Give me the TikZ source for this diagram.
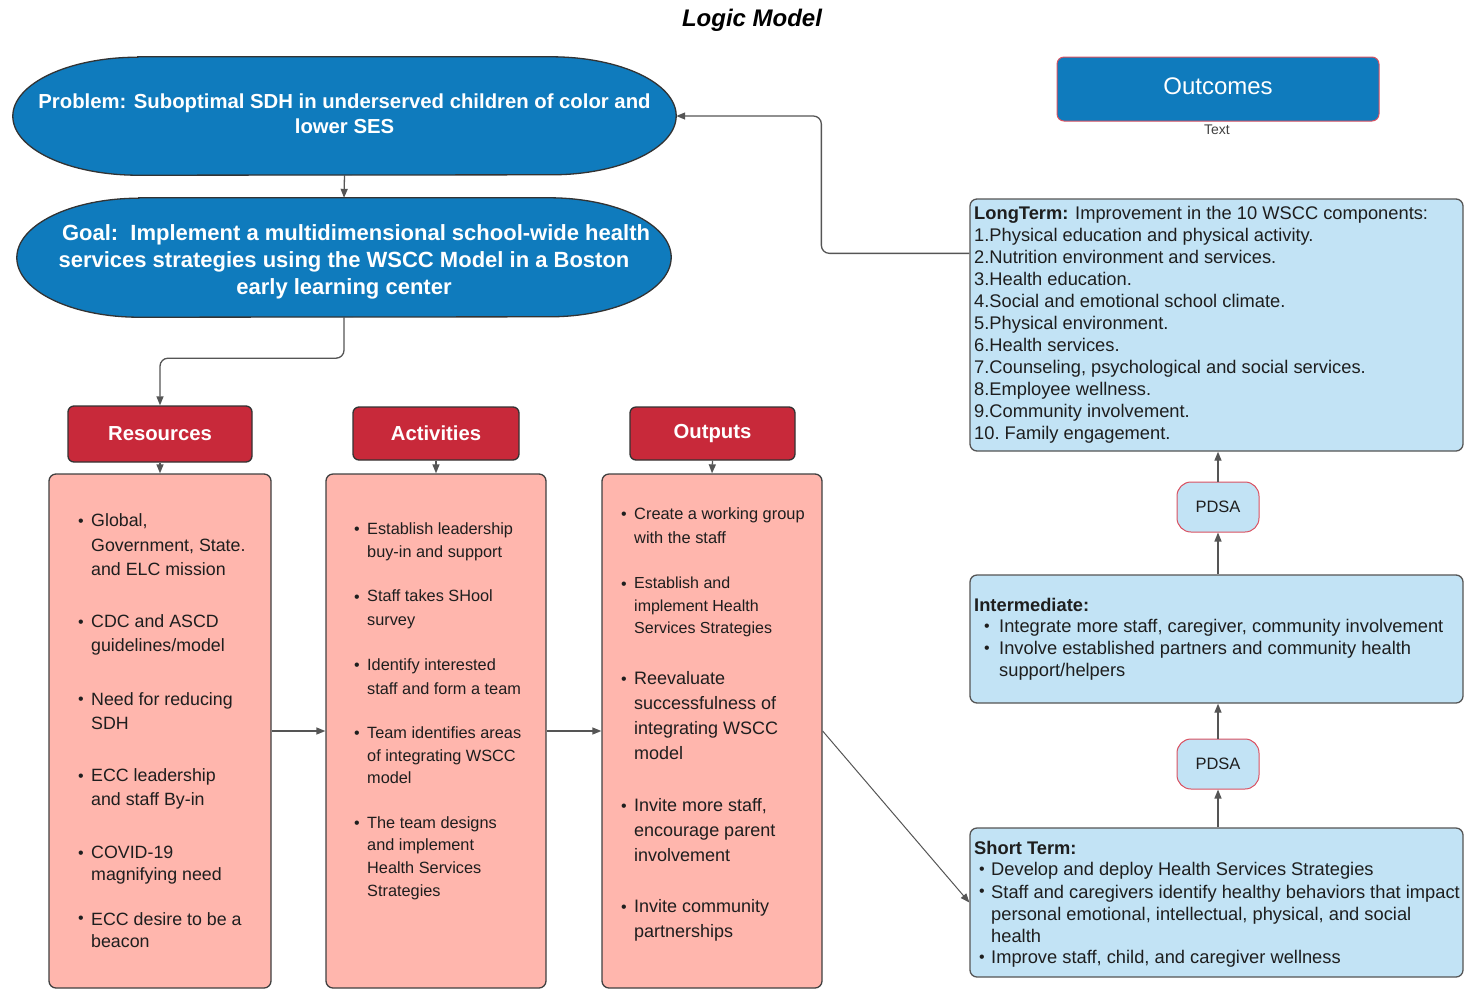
\documentclass[tikz,border=0pt]{standalone}
\usepackage{fontspec}
\setmainfont{Liberation Sans}
\usetikzlibrary{shapes.geometric,arrows.meta,calc,backgrounds}
\definecolor{eblue}{HTML}{0F7BBD}
\definecolor{hred}{HTML}{C8293A}
\definecolor{salmon}{HTML}{FFB6AD}
\definecolor{lblue}{HTML}{C2E3F5}
\definecolor{lgray}{HTML}{555555}
\definecolor{txt}{HTML}{1E1E1E}
\definecolor{pred}{HTML}{DA5060}
\newcommand\fs[2]{\fontsize{#1}{#2}\selectfont}
% stadium-like shape with elliptical ends: #1 node name, #2 end x-radius
\newcommand\ovalshape[2]{%
  \begin{pgfonlayer}{background}
  \path[draw=black!80, line width=1.3pt, fill=eblue]
    ($(#1.north west)+(#2,0)$) -- ($(#1.north east)-(#2,0)$)
    arc[start angle=90, end angle=-90, x radius=#2 pt, y radius=0.5*\ovalh]
    -- ($(#1.south west)+(#2,0)$)
    arc[start angle=270, end angle=90, x radius=#2 pt, y radius=0.5*\ovalh] -- cycle;
  \end{pgfonlayer}}
\begin{document}
\begin{tikzpicture}[x=1pt,y=-1pt,
  conn/.style={draw=lgray, line width=1.3pt, -{Triangle[length=9pt,width=7pt]}},
  ovalbox/.style={rectangle, inner sep=0pt, draw=none},
  elltext/.style={text=white, align=center, inner sep=0pt},
  hdr/.style={rectangle, rounded corners=6pt, draw=black!80, line width=1.3pt, fill=hred, text=white, font=\fs{20.3}{24}\bfseries},
  pbox/.style={rectangle, rounded corners=7pt, draw=black!75, line width=1.3pt, fill=salmon, inner sep=0pt},
  bbox/.style={rectangle, rounded corners=7pt, draw=lgray, line width=1.3pt, fill=lblue, inner sep=0pt},
  pdsa/.style={rectangle, rounded corners=14pt, draw=pred, line width=1pt, fill=lblue, text=txt, font=\fs{16.5}{20}, minimum width=82pt, minimum height=50pt},
  itm/.style={anchor=west, align=left, inner sep=0pt, text=txt},
  bul/.style={inner sep=0pt, text=txt, font=\fs{16}{16}, yshift=-3pt}
]
\useasboundingbox (0,0) rectangle (1464,989);

% title
\node[font=\fs{24}{27}\bfseries\itshape, text=black] (title) at (752,20) {Logic Model};

% ovals
\node[ovalbox, minimum width=663pt, minimum height=118pt] (prob) at (344.5,116) {};
\def\ovalh{118pt}\ovalshape{prob}{125}
\node[elltext, font=\fs{20.3}{25}\bfseries] (probt) at (344.5,114) {Problem: Suboptimal SDH in underserved children of color and\\lower SES};
\node[ovalbox, minimum width=654pt, minimum height=119pt] (goal) at (344,257.5) {};
\def\ovalh{119pt}\ovalshape{goal}{122}
\node[elltext, font=\fs{22}{27}\bfseries] (goalt) at (344,262) {\hspace*{24pt}Goal:\ \ Implement a multidimensional school-wide health\\services strategies using the WSCC Model in a Boston\\early learning center};

% headers
\node[hdr, minimum width=184pt, minimum height=56pt] (reshead) at (160,434) {Resources};
\node[hdr, minimum width=166pt, minimum height=53pt] (acthead) at (436,433.5) {Activities};
\node[hdr, minimum width=165pt, minimum height=53pt] (outhead) at (712.5,433.5) {Outputs};

% column boxes
\node[pbox, minimum width=222pt, minimum height=514pt] (res) at (160,731) {};
\node[pbox, minimum width=220pt, minimum height=514pt] (act) at (436,731) {};
\node[pbox, minimum width=220pt, minimum height=514pt] (out) at (712,731) {};

% outcomes
\node[rectangle, rounded corners=7pt, draw=pred, line width=1pt, fill=eblue,
  minimum width=322pt, minimum height=64pt,
  label={[text=white, font=\fs{24}{28}, yshift=3pt, name=outcl]center:Outcomes}] (outc) at (1218,89) {};
\node[font=\fs{14}{16}, text=black!75, inner sep=0pt] (outct) at (1217,130) {Text};

\node[bbox, minimum width=493pt, minimum height=252pt] (lt) at (1216.5,325) {};
\node[bbox, minimum width=493pt, minimum height=128pt] (inter) at (1216.5,639) {};
\node[bbox, minimum width=493pt, minimum height=149pt] (st) at (1216.5,902.5) {};
\node[pdsa] (p1) at (1218,507) {PDSA};
\node[pdsa] (p2) at (1218,764) {PDSA};

% connectors
\draw[conn] (prob.south) -- (goal.north);
\draw[conn, rounded corners=8pt] (goal.south) -- ++(0,41) -| (reshead.north);
\draw[conn] (reshead.south) -- (res.north);
\draw[conn] (acthead.south) -- (act.north);
\draw[conn] (outhead.south) -- (out.north);
\draw[conn] (res.east) -- (act.west);
\draw[conn] (act.east) -- (out.west);
\draw[conn, line width=1pt] (out.east) -- (st.west);
\coordinate (ltout) at ($(lt.north west)+(0,55)$);
\draw[conn, rounded corners=8pt] (ltout) -- ++(-148,0) |- (prob.east);
\draw[conn] (inter.north -| p1.south) -- (p1.south);
\draw[conn] (p1.north) -- (p1.north |- lt.south);
\draw[conn] (st.north -| p2.south) -- (p2.south);
\draw[conn] (p2.north) -- (p2.north |- inter.south);

% resources items
\node[itm, font=\fs{17.8}{24.5}] (r1) at (91,545) {Global,\\Government, State.\\and ELC mission};
\node[itm, font=\fs{17.8}{24.5}] (r2) at (91,635) {CDC and ASCD\\guidelines/model};
\node[itm, font=\fs{17.8}{24.5}] (r3) at (91,711) {Need for reducing\\SDH};
\node[itm, font=\fs{17.8}{24.5}] (r4) at (91,789) {ECC leadership\\and staff By-in};
\node[itm, font=\fs{17.8}{22}] (r5) at (91,865.5) {COVID-19\\magnifying need};
\node[itm, font=\fs{17.8}{22}] (r6) at (91,930) {ECC desire to be a\\beacon};
\foreach \y/\n in {520/rb1,621/rb2,698/rb3,775/rb4,852/rb5,917/rb6}
  \node[bul] (\n) at (81,\y) {\textbullet};

% activities items
\node[itm, font=\fs{16.3}{23.5}] (a1) at (367,542) {Establish leadership\\buy-in and support};
\node[itm, font=\fs{16.3}{23.5}] (a2) at (367,609.5) {Staff takes SHool\\survey};
\node[itm, font=\fs{16.3}{23.5}] (a3) at (367,676.5) {Identify interested\\staff and form a team};
\node[itm, font=\fs{16.3}{22.5}] (a4) at (367,755.5) {Team identifies areas\\of integrating WSCC\\model};
\node[itm, font=\fs{16.3}{22.7}] (a5) at (367,858) {The team designs\\and implement\\Health Services\\Strategies};
\foreach \y/\n in {528/ab1,596/ab2,664/ab3,732/ab4,822/ab5}
  \node[bul] (\n) at (357,\y) {\textbullet};

% outputs items
\node[itm, font=\fs{16.4}{24}] (o1) at (634,526) {Create a working group\\with the staff};
\node[itm, font=\fs{16}{22.5}] (o2) at (634,607) {Establish and\\implement Health\\Services Strategies};
\node[itm, font=\fs{18}{25}] (o3) at (634,716) {Reevaluate\\successfulness of\\integrating WSCC\\model};
\node[itm, font=\fs{18}{25}] (o4) at (634,830.5) {Invite more staff,\\encourage parent\\involvement};
\node[itm, font=\fs{18}{25}] (o5) at (634,920) {Invite community\\partnerships};
\foreach \y/\n in {513/ob1,583/ob2,678/ob3,805/ob4,906/ob5}
  \node[bul] (\n) at (624,\y) {\textbullet};

% long term
\node[itm, font=\fs{18.3}{22}] (ltt) at (974,325) {\textbf{LongTerm:} Improvement in the 10 WSCC components:\\
1.Physical education and physical activity.\\
2.Nutrition environment and services.\\
3.Health education.\\
4.Social and emotional school climate.\\
5.Physical environment.\\
6.Health services.\\
7.Counseling, psychological and social services.\\
8.Employee wellness.\\
9.Community involvement.\\
10.\ Family engagement.};

% intermediate
\node[itm, font=\fs{18.3}{22}\bfseries] (intt) at (974,605) {Intermediate:};
\node[itm, font=\fs{18.3}{22}] (i1) at (999,627.5) {Integrate more staff, caregiver, community involvement};
\node[itm, font=\fs{18.3}{22}] (i2) at (999,661) {Involve established partners and community health\\support/helpers};
\foreach \y/\n in {625/ib1,647/ib2}
  \node[bul] (\n) at (987,\y) {\textbullet};

% short term
\node[itm, font=\fs{18.3}{22}\bfseries] (stt) at (974,848) {Short Term:};
\node[itm, font=\fs{18.3}{22}] (s1) at (991,870.5) {Develop and deploy Health Services Strategies};
\node[itm, font=\fs{18.3}{22}] (s2) at (991,913.5) {Staff and caregivers identify healthy behaviors that impact\\personal emotional, intellectual, physical, and social\\health};
\node[itm, font=\fs{18.3}{22}] (s3) at (991,958.5) {Improve staff, child, and caregiver wellness};
\foreach \y/\n in {868/sb1,890/sb2,956/sb3}
  \node[bul] (\n) at (982,\y) {\textbullet};
\end{tikzpicture}
\end{document}
